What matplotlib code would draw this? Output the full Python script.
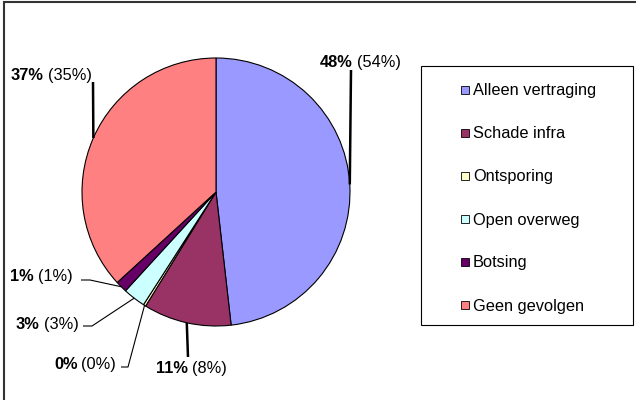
import matplotlib.pyplot as plt
from matplotlib.patches import Rectangle
import numpy as np

plt.rcParams['font.family'] = ['Liberation Sans', 'DejaVu Sans']

# ---------------- data ----------------
categories  = ["Alleen vertraging", "Schade infra", "Ontsporing",
               "Open overweg", "Botsing", "Geen gevolgen"]
shares      = [48.2, 10.6, 0.3, 2.7, 1.4, 36.8]        # current share (%)
prev_labels = ["(54%)", "(8%)", "(0%)", "(3%)", "(1%)", "(35%)"]
colors      = ["#9999FF", "#993366", "#FFFFCC", "#CCFFFF", "#660066", "#FF8080"]

# ---------------- layout (pixels from top-left) ----------------
W, H = 636, 400
def py(y):
    return H - y

# label start x, baseline y, leader knee points (towards the label)
label_x    = [320, 156, 54, 16, 10, 11]
label_base = [67, 373, 369, 329, 281, 80]
leaders    = [[(351, 70)],
              [(188, 357)],
              [(128, 367), (121, 367)],
              [(92, 326), (83, 326)],
              [(90, 280), (81, 280)],
              [(93, 82)]]
leader_lw  = [1.8, 1.8, 0.8, 0.8, 0.8, 1.8]
fs = 11.8

fig = plt.figure(figsize=(W / 100, H / 100), dpi=100)
ax = fig.add_axes([0, 0, 1, 1])

cx, cy, r = 216, py(192), 134
wedges, _ = ax.pie(shares, colors=colors, startangle=90, counterclock=False,
                   center=(cx, cy), radius=r,
                   wedgeprops=dict(edgecolor="black", linewidth=0.8))
ax.set_xlim(0, W)
ax.set_ylim(0, H)
ax.set_aspect("equal")
ax.axis("off")

# outer chart frame (cut off at right/bottom)
ax.add_patch(Rectangle((4, -10), 700, py(2) + 10, fill=False,
                       edgecolor="#333333", linewidth=1.5))

# ---------------- labels with leader lines ----------------
renderer = fig.canvas.get_renderer()
for i, w in enumerate(wedges):
    th = np.deg2rad((w.theta1 + w.theta2) / 2)
    ex, ey = cx + r * np.cos(th), cy + r * np.sin(th)
    xs = [ex] + [p[0] for p in leaders[i]]
    ys = [ey] + [py(p[1]) for p in leaders[i]]
    ax.plot(xs, ys, color="black", linewidth=leader_lw[i], solid_capstyle="butt")

    t = ax.text(label_x[i], py(label_base[i]), f"{round(shares[i])}%",
                fontsize=fs, fontweight="bold", va="baseline", ha="left")
    bb = t.get_window_extent(renderer)
    ax.text(bb.x1 + 4, py(label_base[i]), prev_labels[i],
            fontsize=fs, va="baseline", ha="left")

# ---------------- legend ----------------
ax.add_patch(Rectangle((421, py(325)), 212, 259, facecolor="white",
                       edgecolor="black", linewidth=0.8))
for i, (name, c) in enumerate(zip(categories, colors)):
    base = 95.5 + i * 43
    ax.add_patch(Rectangle((461, py(base - 2)), 8, 8, facecolor=c,
                           edgecolor="black", linewidth=0.6))
    ax.text(473, py(base), name, fontsize=fs, va="baseline", ha="left")

fig.savefig("out.png", dpi=100)
